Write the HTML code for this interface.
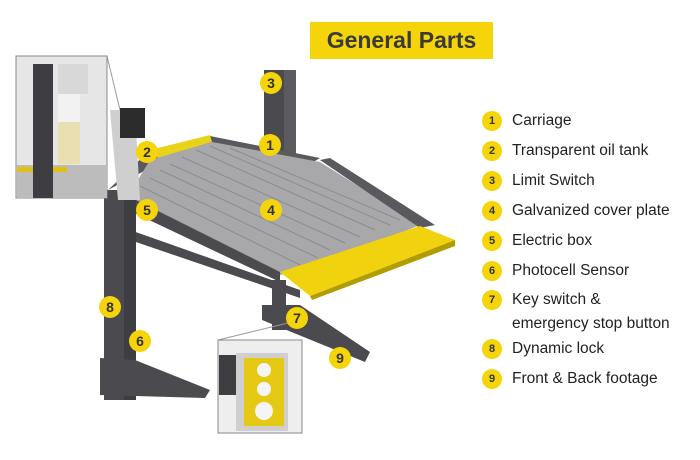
<!DOCTYPE html>
<html><head><meta charset="utf-8"><style>
html,body{margin:0;padding:0;background:#fff;}
#w{position:relative;width:700px;height:460px;overflow:hidden;font-family:"Liberation Sans",sans-serif;}
.title{position:absolute;left:310px;top:22px;width:183px;height:37px;background:#f5d40a;color:#3a3a3a;font-weight:bold;font-size:23px;line-height:37px;text-align:center;}
.li{position:absolute;left:482px;font-size:15.5px;color:#222;line-height:22px;}
.li b{position:absolute;left:0;top:0;width:20px;height:20px;border-radius:50%;background:#f5d40a;font-size:11px;text-align:center;line-height:20px;color:#333;}
.li span{position:absolute;left:30px;top:-1px;white-space:nowrap;}
</style></head><body><div id="w">
<svg width="700" height="460" style="position:absolute;left:0;top:0">
<rect x="264" y="70" width="32" height="115" fill="#4b4b4f"/>
<rect x="284" y="70" width="12" height="115" fill="#5c5c60"/>
<polygon points="108,190 150,150 210,136 320,158 300,170 150,168" fill="#5a5a5e"/>
<polygon points="150,150 210,135 212,142 158,158" fill="#e8d21a"/>
<polygon points="150,160 212,142 320,162 420,225 310,270 280,275 165,225 128,196" fill="#a8a8aa"/>
<g stroke="#8c8c8e" stroke-width="1">
<line x1="160" y1="170" x2="330" y2="250"/><line x1="170" y1="164" x2="345" y2="243"/><line x1="182" y1="157" x2="360" y2="237"/><line x1="196" y1="150" x2="375" y2="230"/><line x1="150" y1="178" x2="318" y2="258"/><line x1="140" y1="186" x2="300" y2="265"/><line x1="210" y1="146" x2="390" y2="225"/><line x1="230" y1="148" x2="400" y2="220"/>
</g>
<polygon points="320,160 330,158 435,225 420,228" fill="#5a5a5e"/>
<polygon points="280,272 420,226 455,240 310,296" fill="#f0d20e"/>
<polygon points="310,296 455,240 455,246 312,300" fill="#b39c00"/>
<polygon points="128,196 280,272 280,282 128,210" fill="#4b4b4f"/>
<polygon points="130,230 300,290 300,298 130,240" fill="#4b4b4f"/>
<rect x="272" y="280" width="14" height="50" fill="#4b4b4f"/>
<polygon points="262,305 300,305 370,352 365,362 262,320" fill="#4b4b4f"/>
<rect x="104" y="190" width="32" height="210" fill="#4b4b4f"/>
<rect x="124" y="190" width="12" height="210" fill="#3e3e42"/>
<polygon points="100,358 135,360 210,390 205,398 100,395" fill="#4b4b4f"/>
<line x1="107" y1="56" x2="120" y2="110" stroke="#999"/>
<rect x="16" y="56" width="91" height="142" fill="#e6e6e6" stroke="#888"/>
<rect x="17" y="165" width="90" height="33" fill="#bcbcbc"/>
<rect x="17" y="167" width="50" height="5" fill="#e0c010"/>
<rect x="33" y="64" width="20" height="134" fill="#3e3e42"/>
<rect x="58" y="64" width="30" height="30" fill="#d8d8d8"/>
<rect x="58" y="122" width="22" height="42" fill="#eadfb0"/>
<rect x="58" y="94" width="22" height="28" fill="#f2f2f2"/>
<polygon points="110,110 135,110 140,200 118,200" fill="#cfcfcf"/>
<rect x="120" y="108" width="25" height="30" fill="#2c2c2c"/>
<line x1="218" y1="340" x2="300" y2="320" stroke="#999"/>
<rect x="218" y="340" width="84" height="93" fill="#eee" stroke="#888"/>
<rect x="219" y="355" width="20" height="40" fill="#3e3e42"/>
<rect x="236" y="353" width="52" height="78" fill="#cfcfcf"/>
<rect x="244" y="358" width="40" height="68" fill="#e6c915"/>
<circle cx="264" cy="370" r="7" fill="#f5f5f5"/><circle cx="264" cy="389" r="7" fill="#f5f5f5"/><circle cx="264" cy="411" r="9" fill="#f5f5f5"/>
<g fill="#f5d40a" font-family="Liberation Sans,sans-serif" font-weight="bold" font-size="14" text-anchor="middle">
<circle cx="271" cy="83" r="11"/><circle cx="270" cy="145" r="11"/><circle cx="147" cy="152" r="11"/><circle cx="271" cy="210" r="11"/><circle cx="147" cy="210" r="11"/><circle cx="140" cy="341" r="11"/><circle cx="297" cy="318" r="11"/><circle cx="110" cy="307" r="11"/><circle cx="340" cy="358" r="11"/>
<g fill="#333">
<text x="271" y="88">3</text><text x="270" y="150">1</text><text x="147" y="157">2</text><text x="271" y="215">4</text><text x="147" y="215">5</text><text x="140" y="346">6</text><text x="297" y="323">7</text><text x="110" y="312">8</text><text x="340" y="363">9</text>
</g></g>
</svg>
<div class="title">General Parts</div>
<div class="li" style="top:111px"><b>1</b><span>Carriage</span></div>
<div class="li" style="top:141px"><b>2</b><span>Transparent oil tank</span></div>
<div class="li" style="top:171px"><b>3</b><span>Limit Switch</span></div>
<div class="li" style="top:201px"><b>4</b><span>Galvanized cover plate</span></div>
<div class="li" style="top:231px"><b>5</b><span>Electric box</span></div>
<div class="li" style="top:261px"><b>6</b><span>Photocell Sensor</span></div>
<div class="li" style="top:290px"><b>7</b><span style="line-height:24px;top:-2px">Key switch &amp;<br>emergency stop button</span></div>
<div class="li" style="top:339px"><b>8</b><span>Dynamic lock</span></div>
<div class="li" style="top:369px"><b>9</b><span>Front &amp; Back footage</span></div>
</div></body></html>
